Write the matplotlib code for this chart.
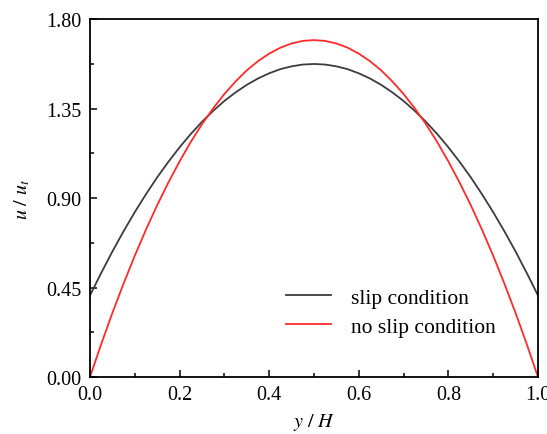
import matplotlib
matplotlib.use("Agg")
import matplotlib.pyplot as plt
from matplotlib.ticker import MultipleLocator

plt.rcParams['font.family'] = ['Liberation Serif', 'DejaVu Serif']
plt.rcParams['mathtext.fontset'] = 'stix'

y_over_H = [0.0, 0.025, 0.05, 0.075, 0.10, 0.125, 0.15, 0.175, 0.20, 0.225,
            0.25, 0.275, 0.30, 0.325, 0.35, 0.375, 0.40, 0.425, 0.45, 0.475,
            0.50, 0.525, 0.55, 0.575, 0.60, 0.625, 0.65, 0.675, 0.70, 0.725,
            0.75, 0.775, 0.80, 0.825, 0.85, 0.875, 0.90, 0.925, 0.95, 0.975, 1.0]

slip = [0.410, 0.523, 0.631, 0.733, 0.829, 0.919, 1.004, 1.082, 1.155, 1.222,
        1.283, 1.338, 1.388, 1.431, 1.469, 1.501, 1.527, 1.548, 1.562, 1.571,
        1.574, 1.571, 1.562, 1.548, 1.527, 1.501, 1.469, 1.431, 1.388, 1.338,
        1.283, 1.222, 1.155, 1.082, 1.004, 0.919, 0.829, 0.733, 0.631, 0.523, 0.410]

no_slip = [0.000, 0.165, 0.322, 0.470, 0.610, 0.741, 0.864, 0.978, 1.084, 1.182,
           1.271, 1.351, 1.423, 1.486, 1.542, 1.588, 1.626, 1.656, 1.677, 1.690,
           1.694, 1.690, 1.677, 1.656, 1.626, 1.588, 1.542, 1.486, 1.423, 1.351,
           1.271, 1.182, 1.084, 0.978, 0.864, 0.741, 0.610, 0.470, 0.322, 0.165, 0.000]

x_ticks = [0.0, 0.2, 0.4, 0.6, 0.8, 1.0]
y_ticks = [0.00, 0.45, 0.90, 1.35, 1.80]

fig = plt.figure(figsize=(5.47, 4.35), dpi=100)
ax = fig.add_axes([0.1645, 0.131, 0.819, 0.823])

ax.plot(y_over_H, slip, color='#3c3c3c', lw=1.3, label='slip condition')
ax.plot(y_over_H, no_slip, color='#ff2a2a', lw=1.3, label='no slip condition')

ax.set_xlim(0, 1)
ax.set_ylim(0, 1.8)
ax.set_xticks(x_ticks)
ax.set_xticklabels([f'{v:.1f}' for v in x_ticks])
ax.set_yticks(y_ticks)
ax.set_yticklabels([f'{v:.2f}' for v in y_ticks])
ax.xaxis.set_minor_locator(MultipleLocator(0.1))
ax.yaxis.set_minor_locator(MultipleLocator(0.225))
ax.tick_params(which='both', direction='in', top=False, right=False, labelsize=14.5, width=1.1)
ax.tick_params(axis='x', pad=6)
ax.tick_params(axis='y', pad=6)
ax.tick_params(which='major', length=5)
ax.tick_params(which='minor', length=3)
for s in ax.spines.values():
    s.set_linewidth(1.3)

ax.set_xlabel(r'$y\ /\ H$', fontsize=14.5, labelpad=5)
ax.set_ylabel(r'$u\ /\ u_t$', fontsize=14.5, labelpad=10)

leg = ax.legend(loc='lower right', bbox_to_anchor=(0.948, 0.058), frameon=False,
                fontsize=15.5, handlelength=2.1, handletextpad=0.9, labelspacing=0.42)

fig.savefig('out.png', dpi=100)
